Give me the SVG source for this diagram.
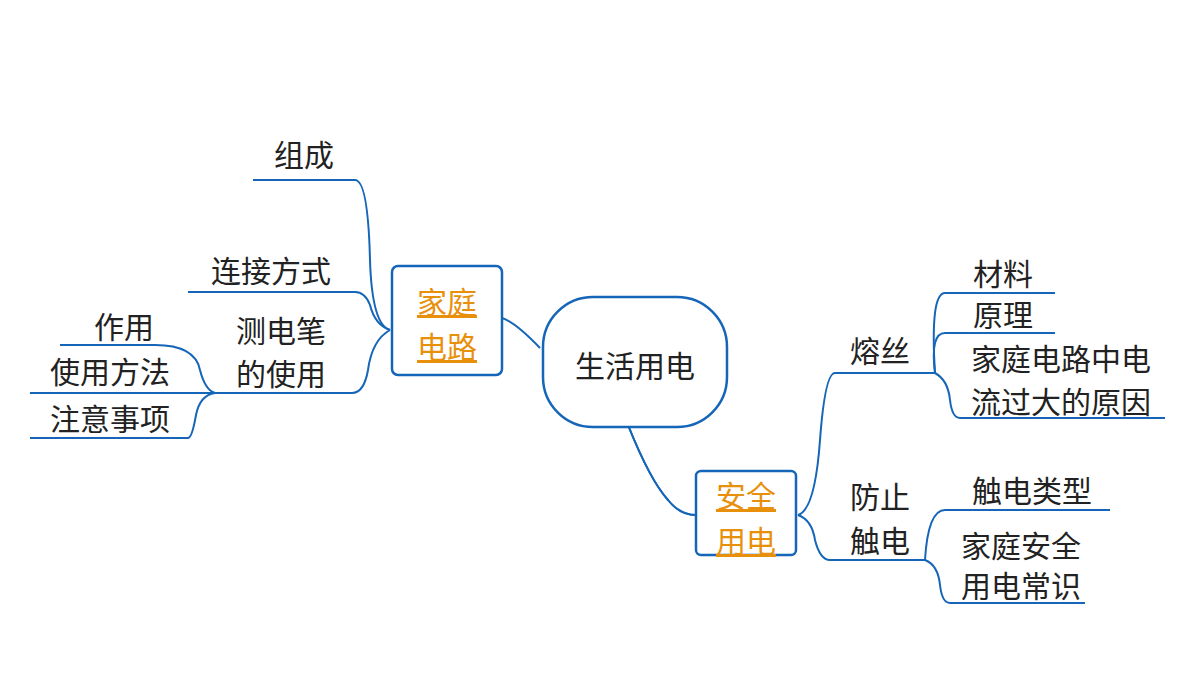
<svg xmlns="http://www.w3.org/2000/svg" width="1200" height="675" viewBox="0 0 1200 675">
<style>
.l{fill:none;stroke:#1565b8;stroke-width:2}
.b{fill:#fff;stroke:#1565b8;stroke-width:2.5}
text{font-family:"Noto Sans CJK SC",sans-serif;font-size:30px;fill:#222}
.o{fill:#e8900c;text-decoration:underline}
</style>
<rect width="1200" height="675" fill="#fff"/>
<g id="connectors">
<path class="l" d="M502 318 Q515 322 540 348"/>
<path class="l" d="M628 425 Q650 480 668 500 Q680 515 696 515" stroke-width="4"/>
<path class="l" d="M628 425 Q650 480 668 500 Q680 515 696 515" stroke="#fff" stroke-width="1.5"/>
<path class="l" d="M390 330 Q372 325 370 260 Q368 180 355 180 L253 180"/>
<path class="l" d="M390 330 Q375 325 370 305 Q365 292 355 292 L188 292"/>
<path class="l" d="M390 330 Q372 340 368 370 Q364 393 352 393 L215 393"/>
<path class="l" d="M215 393 Q205 390 200 370 Q195 345 155 345 L60 345"/>
<path class="l" d="M215 393 L30 393"/>
<path class="l" d="M215 393 Q200 395 196 415 Q192 438 188 438 L30 438"/>
<path class="l" d="M798 515 Q815 510 820 440 Q825 373 835 373 L935 373"/>
<path class="l" d="M798 515 Q812 520 815 540 Q820 560 830 560 L925 560"/>
<path class="l" d="M935 373 Q930 293 945 293 L1055 293"/>
<path class="l" d="M935 373 Q930 333 945 333 L1055 333"/>
<path class="l" d="M935 373 Q948 380 950 400 Q952 418 960 418 L1165 418"/>
<path class="l" d="M925 560 Q928 510 945 510 L1110 510"/>
<path class="l" d="M925 560 Q938 565 940 585 Q942 603 950 603 L1085 603"/>
</g>
<g id="center"><rect class="b" x="543" y="297" width="184" height="130" rx="50"/><text x="635" y="377" text-anchor="middle" font-size="34">生活用电</text></g>
<g id="jiating"><rect class="b" x="392" y="266" width="110" height="109" rx="6"/><text class="o" x="447" y="313" text-anchor="middle" font-size="32">家庭</text><text class="o" x="447" y="358" text-anchor="middle" font-size="32">电路</text></g>
<g id="anquan"><rect class="b" x="696" y="471" width="100" height="84" rx="5"/><text class="o" x="746" y="507" text-anchor="middle" font-size="32">安全</text><text class="o" x="746" y="552" text-anchor="middle" font-size="32">用电</text></g>
<g id="zucheng"><text x="304" y="166" text-anchor="middle">组成</text></g>
<g id="lianjie"><text x="271" y="282" text-anchor="middle">连接方式</text></g>
<g id="cedianbi"><text x="281" y="342" text-anchor="middle">测电笔</text><text x="281" y="385" text-anchor="middle">的使用</text></g>
<g id="zuoyong"><text x="124" y="338" text-anchor="middle">作用</text></g>
<g id="shiyong"><text x="110" y="383" text-anchor="middle">使用方法</text></g>
<g id="zhuyi"><text x="110" y="430" text-anchor="middle">注意事项</text></g>
<g id="rongsi"><text x="880" y="362" text-anchor="middle">熔丝</text></g>
<g id="cailiao"><text x="1003" y="285" text-anchor="middle">材料</text></g>
<g id="yuanli"><text x="1003" y="326" text-anchor="middle">原理</text></g>
<g id="guoda"><text x="1061" y="370" text-anchor="middle">家庭电路中电</text><text x="1061" y="413" text-anchor="middle">流过大的原因</text></g>
<g id="fangzhi"><text x="880" y="508" text-anchor="middle">防止</text><text x="880" y="552" text-anchor="middle">触电</text></g>
<g id="leixing"><text x="1032" y="502" text-anchor="middle">触电类型</text></g>
<g id="changshi"><text x="1021" y="557" text-anchor="middle">家庭安全</text><text x="1021" y="597" text-anchor="middle">用电常识</text></g>
</svg>
